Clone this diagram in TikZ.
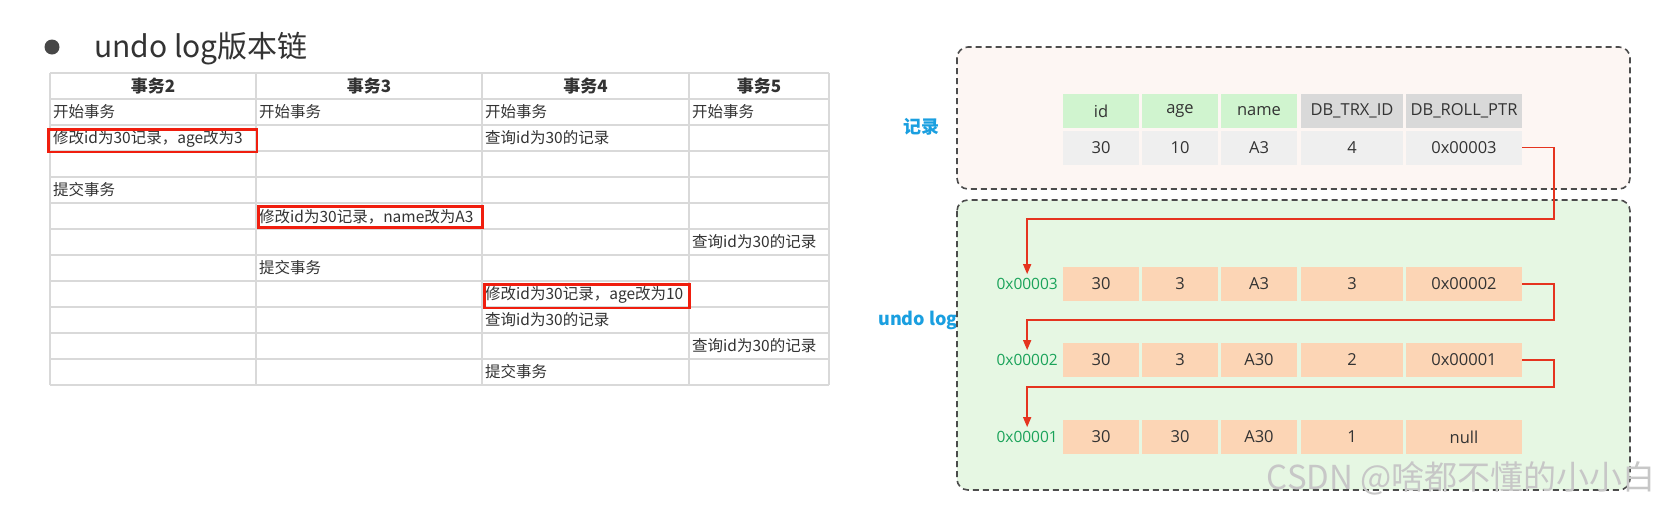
\documentclass[tikz,border=0pt]{standalone}
\usepackage{fontspec}
\setmainfont{Noto Sans CJK SC}
\newfontfamily\cjk{Noto Sans CJK SC}
\newfontfamily\osans{Open Sans}
\usetikzlibrary{arrows.meta,calc}
\definecolor{gridc}{HTML}{D9D9D9}
\definecolor{txt}{HTML}{333333}
\definecolor{redbox}{HTML}{F01E0E}
\definecolor{recfill}{HTML}{FDF6F3}
\definecolor{undofill}{HTML}{E6F7E3}
\definecolor{hgreen}{HTML}{D0F4CF}
\definecolor{hgray}{HTML}{D9D9D9}
\definecolor{dgray}{HTML}{EFEFEF}
\definecolor{peach}{HTML}{FCD5B5}
\definecolor{addrc}{HTML}{1AA35A}
\definecolor{lblue}{HTML}{1A9FE0}
\definecolor{linkc}{HTML}{E5341F}
\begin{document}
\begin{tikzpicture}[x=1pt,y=-1pt,
  tcell/.style={anchor=west, inner sep=0pt, text=txt, font=\cjk\fontsize{15.5}{18}\selectfont},
  thead/.style={inner sep=0pt, text=txt, font=\cjk\bfseries\fontsize{17}{20}\selectfont},
  redmark/.style={draw=redbox, line width=2.6pt},
  gridline/.style={draw=gridc, line width=1.3pt},
  box/.style={draw=black!70, line width=1.6pt, dash pattern=on 6pt off 4pt, rounded corners=11pt},
  cell/.style={fill=#1, inner sep=0pt, minimum height=34pt, text=txt, font=\osans\fontsize{16.5}{19}\selectfont},
  w1/.style={minimum width=76pt}, w4/.style={minimum width=102pt}, w5/.style={minimum width=116pt},
  addr/.style={anchor=east, inner xsep=1pt, inner ysep=4pt, text=addrc, font=\osans\fontsize{15.5}{18}\selectfont},
  blab/.style={text=lblue, inner sep=0pt, font=\cjk\bfseries\fontsize{18}{22}\selectfont},
  link/.style={draw=linkc, line width=1.5pt, -{Triangle[length=10pt,width=8pt]}}
]
\useasboundingbox (0,0) rectangle (1657,507);
\fill[white] (0,0) rectangle (1657,507);

% ---------- title ----------
\node[circle, fill=black!72, minimum size=15pt, inner sep=0pt] (bul) at (52,47) {};
\node[anchor=base west, inner sep=0pt, text=txt, font=\cjk\fontsize{30}{36}\selectfont] (title) at (94,57) {undo log版本链};

% ---------- left table grid ----------
\foreach \i in {0,...,12} { \draw[gridline] (50,73+26*\i) -- (829,73+26*\i); }
\foreach \x in {50,256,482,689,829} { \draw[gridline] (\x,73) -- (\x,385); }

% headers
\node[thead] (h2) at (153,86) {事务2};
\node[thead] (h3) at (369,86) {事务3};
\node[thead] (h4) at (585.5,86) {事务4};
\node[thead] (h5) at (759,86) {事务5};

% body
\node[tcell] (b1a) at (53,112) {开始事务};
\node[tcell] (b1b) at (259,112) {开始事务};
\node[tcell] (b1c) at (485,112) {开始事务};
\node[tcell] (b1d) at (692,112) {开始事务};
\node[tcell] (b2a) at (53,139) {修改id为30记录，age改为3};
\node[tcell] (b2c) at (485,138) {查询id为30的记录};
\node[tcell] (b4a) at (53,190) {提交事务};
\node[tcell] (b5b) at (259,216.5) {修改id为30记录，name改为A3};
\node[tcell] (b6d) at (692,242) {查询id为30的记录};
\node[tcell] (b7b) at (259,268) {提交事务};
\node[tcell] (b8c) at (485,295) {修改id为30记录，age改为10};
\node[tcell] (b9c) at (485,320) {查询id为30的记录};
\node[tcell] (b10d) at (692,346) {查询id为30的记录};
\node[tcell] (b11c) at (485,372) {提交事务};

% red marks
\draw[redmark] (48.5,129.5) rectangle (257,152);
\draw[redmark] (258.3,206.3) rectangle (482.7,227.7);
\draw[redmark] (484.3,284.7) rectangle (689.7,308);

% ---------- right diagram ----------
\node[blab, anchor=east] (lundo) at (958,320) {undo log};
\draw[box, fill=recfill] (957,47) rectangle (1630,189);
\draw[box, fill=undofill] (957,200) rectangle (1630,490);
\node[blab] (lrec) at (921,127) {记录};

% record header
\node[cell=hgreen, w1] (hc1) at (1101,111) {id};
\node[cell=hgreen, w1] (hc2) at (1180,111) {age};
\node[cell=hgreen, w1] (hc3) at (1259,111) {name};
\node[cell=hgray, w4] (hc4) at (1352,111) {DB\_TRX\_ID};
\node[cell=hgray, w5] (hc5) at (1464,111) {DB\_ROLL\_PTR};
% record data
\node[cell=dgray, w1] (r1) at (1101,147.5) {30};
\node[cell=dgray, w1] (r2) at (1180,147.5) {10};
\node[cell=dgray, w1] (r3) at (1259,147.5) {A3};
\node[cell=dgray, w4] (r4) at (1352,147.5) {4};
\node[cell=dgray, w5] (r5) at (1464,147.5) {0x00003};

% undo rows
\node[addr] (a1) at (1059,284) {0x00003};
\node[cell=peach, w1] (u11) at (1101,284) {30};
\node[cell=peach, w1] (u12) at (1180,284) {3};
\node[cell=peach, w1] (u13) at (1259,284) {A3};
\node[cell=peach, w4] (u14) at (1352,284) {3};
\node[cell=peach, w5] (u15) at (1464,284) {0x00002};

\node[addr] (a2) at (1059,360) {0x00002};
\node[cell=peach, w1] (u21) at (1101,360) {30};
\node[cell=peach, w1] (u22) at (1180,360) {3};
\node[cell=peach, w1] (u23) at (1259,360) {A30};
\node[cell=peach, w4] (u24) at (1352,360) {2};
\node[cell=peach, w5] (u25) at (1464,360) {0x00001};

\node[addr] (a3) at (1059,437) {0x00001};
\node[cell=peach, w1] (u31) at (1101,437) {30};
\node[cell=peach, w1] (u32) at (1180,437) {30};
\node[cell=peach, w1] (u33) at (1259,437) {A30};
\node[cell=peach, w4] (u34) at (1352,437) {1};
\node[cell=peach, w5] (u35) at (1464,437) {null};

% links
\coordinate (k1) at (1554,219);
\coordinate (k2) at (1554,320);
\coordinate (k3) at (1554,387);
\draw[link] (r5.east) -| (k1) -| (a1.north);
\draw[link] (u15.east) -| (k2) -| (a2.north);
\draw[link] (u25.east) -| (k3) -| (a3.north);

% watermark
\node[anchor=east, inner sep=0pt, text=black!22, font=\cjk\fontsize{33}{40}\selectfont] (wm) at (1656,478) {CSDN @啥都不懂的小小白};
\end{tikzpicture}
\end{document}
